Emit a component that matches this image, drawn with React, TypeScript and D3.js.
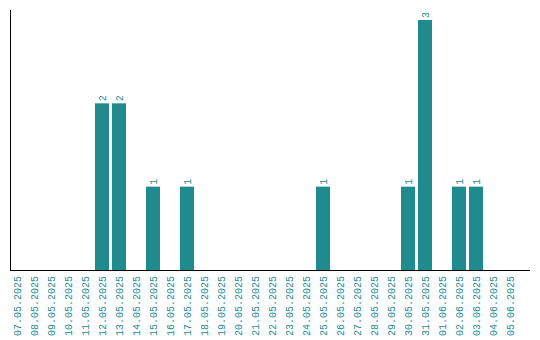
import React from "react";
import * as d3 from "d3";

const categories = [
  "07.05.2025","08.05.2025","09.05.2025","10.05.2025","11.05.2025","12.05.2025",
  "13.05.2025","14.05.2025","15.05.2025","16.05.2025","17.05.2025","18.05.2025",
  "19.05.2025","20.05.2025","21.05.2025","22.05.2025","23.05.2025","24.05.2025",
  "25.05.2025","26.05.2025","27.05.2025","28.05.2025","29.05.2025","30.05.2025",
  "31.05.2025","01.06.2025","02.06.2025","03.06.2025","04.06.2025","05.06.2025",
];
const values = [0,0,0,0,0,2,2,0,1,0,1,0,0,0,0,0,0,0,1,0,0,0,0,1,3,0,1,1,0,0];

const W = 540, H = 340;
const left = 10, baseY = 270, topY = 10;
const teal = "#1f8b8f";
const font = "'Liberation Mono', monospace";

export default function App() {
  const x = d3.scaleBand<string>().domain(categories).range([left, 517]).paddingInner(3 / 17).paddingOuter(0);
  const y = d3.scaleLinear().domain([0, 3]).range([baseY, 20]);
  return (
    <svg width={W} height={H} style={{ position: "absolute", left: 0, top: 0 }}>
      <rect width={W} height={H} fill="#fff" />
      {categories.map((c, i) => {
        const v = values[i];
        const bx = x(c)!;
        const bw = x.bandwidth();
        const cx = bx + bw / 2;
        return (
          <g key={c}>
            {v > 0 && (
              <rect x={bx} y={y(v)} width={bw} height={baseY - y(v)} fill={teal} />
            )}
            {v > 0 && (
              <text
                transform={`translate(${cx},${y(v) - 2}) rotate(-90)`}
                dy="0.35em"
                fontSize={10}
                fontFamily={font}
                fill={teal}
                textAnchor="start"
              >
                {v}
              </text>
            )}
            <text
              transform={`translate(${cx},${baseY + 6}) rotate(-90)`}
              dy="0.35em"
              fontSize={10}
              fontFamily={font}
              fill={teal}
              textAnchor="end"
            >
              {c}
            </text>
          </g>
        );
      })}
      <line x1={left + 0.5} x2={left + 0.5} y1={topY} y2={baseY} stroke="#000" />
      <line x1={left} x2={530} y1={baseY + 0.5} y2={baseY + 0.5} stroke="#000" />
    </svg>
  );
}
